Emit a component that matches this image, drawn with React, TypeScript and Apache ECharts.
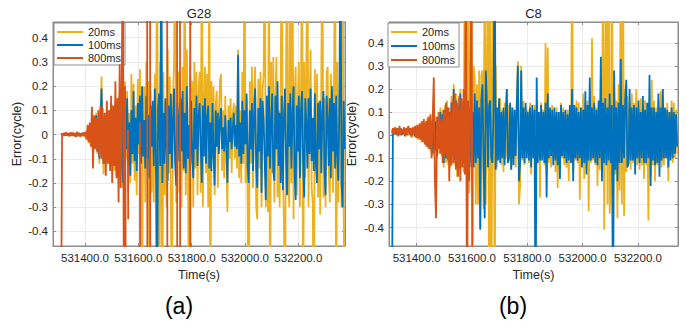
import React, { useEffect, useRef } from 'react';
import * as echarts from 'echarts';

// ---- sampling (epoch grid) ----
const sampleStart = 531310; // s, first epoch of every series
const sampleStep = 4; // s

// ---- G28 (panel a) ----
const g28Ms20 = [
  0, 0.004, -0.003, 0.005, -0.004, 0.003, 0.006, -0.005, 0.004, -0.003,
  0.005, -0.004, 0.007, -0.003, 0.004, -0.006, 0.005, 0.003, -0.004, 0.006,
  -0.005, 0.004, -0.003, 0.005,
  -0.02, 0.025, -0.035, 0.03, -0.025, 0.05, -0.06, 0.07, -0.05, 0.09,
  -0.08, 0.06, -0.12, 0.07, 0.24, -0.06, -0.165, 0.08, -0.09, 0.1,
  -0.12, 0.1, -0.08, 0.13, -0.11, 0.12, -0.15, 0.13, -0.17, 0.15,
  -0.14, 0.18, -0.17, 0.17, -0.22, 0.2,
  0.22, -0.1, 0.18, -0.24, 0.09, -0.2, 0.25, -0.12, 0.21, -0.19,
  0.12, -0.25, 0.23, -0.08, 0.27, -0.2, -0.9, 0.15, 0.2, -0.28,
  0.3, -0.14, 0.22, -0.9, 0.18, -0.24, 0.1, -0.28, 0.25, -0.16,
  0.9, -0.22, -0.9, 0.3, -0.12, -0.9, 0.26, -0.25, 0.14, -0.3,
  0.35, -0.16, 0.24, -0.28, -0.9, 0.15, 0.3, 0.9, -0.28, 0.12,
  0.26, -0.24, 0.12, -0.3, 0.28, -0.15, 0.9, -0.25, 0.35, -0.1,
  -0.9, 0.28, -0.12, 0.22, -0.3, 0.3, -0.14, 0.26, -0.25, 0.18,
  0.26, -0.24, 0.9, -0.3, 0.12, 0.28, -0.16, 0.25, -0.3, 0.9,
  -0.9, 0.22, -0.1, 0.2, -0.25, 0.12, 0.18, -0.22, 0.08, 0.22,
  0.25, -0.15, 0.1, -0.18, 0.16, -0.08, -0.32, 0.12, -0.1, 0.15,
  -0.16, 0.08, 0.13, -0.1, 0.12, -0.14, 0.35, -0.18, 0.1, -0.2,
  0.26, -0.12, 0.9, -0.2, 0.15, -0.28, -0.9, 0.22, -0.12, 0.28,
  -0.22, 0.15, 0.28, -0.3, -0.35, 0.23, -0.14, 0.26, -0.3, 0.18,
  0.25, 0.9, -0.3, 0.12, -0.32, 0.9, -0.9, 0.3, -0.16, 0.32,
  -0.28, 0.14, 0.32, -0.26, 0.1, -0.3, 0.26, 0.9, -0.17, -0.35,
  -0.9, 0.28, 0.9, -0.14, -0.3, 0.9, -0.2, 0.9, -0.35, 0.15,
  0.28, -0.25, 0.12, 0.3, -0.3, 0.15, 0.9, -0.9, 0.3, -0.18,
  0.26, 0.9, -0.3, 0.12, 0.35, -0.22, -0.28, -0.9, 0.27, -0.15,
  0.25, -0.26, 0.14, -0.33, 0.2, 0.9, -0.26, 0.15, -0.3, 0.25,
  0.28, -0.14, -0.28, 0.25, 0.1, -0.24, 0.26, 0.9, -0.9, 0.3,
  -0.28, 0.15, 0.25, -0.3, 0.9, -0.3, -0.9,
];
const g28Ms100 = [
  0, 0.003, -0.002, 0.004, -0.003, 0.002, 0.005, -0.004, 0.003, -0.002,
  0.004, -0.003, 0.006, -0.002, 0.003, -0.005, 0.004, 0.002, -0.003, 0.005,
  -0.004, 0.003, -0.002, 0.004,
  -0.015, 0.02, -0.03, 0.025, -0.02, 0.04, -0.05, 0.06, -0.04, 0.08,
  -0.07, 0.05, -0.1, 0.06, 0.19, -0.05, -0.12, 0.07, -0.08, 0.09,
  -0.1, 0.08, -0.06, 0.12, -0.09, 0.1, -0.13, 0.11, -0.15, 0.13,
  -0.12, 0.16, -0.14, 0.15, -0.2, 0.18,
  0.12, -0.06, 0.15, -0.13, 0.05, -0.17, 0.1, -0.08, 0.18, -0.11,
  0.07, -0.15, 0.13, -0.04, 0.16, -0.12, 0.2, -0.09, 0.06, -0.14,
  0.16, -0.1, 0.08, -0.18, 0.12, -0.05, 0.14, -0.13, 0.19, -0.07,
  -0.9, 0.11, 0.17, -0.13, 0.9, -0.2, 0.09, -0.12, 0.15, -0.06,
  -0.19, 0.12, -0.08, 0.17, -0.14, 0.05, 0.19, -0.12, -0.21, 0.13,
  0.06, -0.11, 0.15, -0.07, 0.18, -0.14, 0.09, -0.16, 0.2, -0.1,
  0.04, -0.15, 0.14, -0.09, -0.18, 0.11, -0.06, 0.16, -0.13, 0.08,
  0.13, -0.05, -0.2, 0.12, -0.09, 0.15, -0.12, 0.07, 0.12, -0.14,
  0.05, -0.15, 0.13, -0.08, -0.21, 0.1, -0.05, 0.09, -0.08, 0.06,
  0.11, -0.06, 0.03, -0.07, 0.08, -0.04, -0.2, 0.06, -0.03, 0.07,
  -0.06, 0.02, 0.09, -0.05, 0.04, -0.06, 0.33, -0.09, 0.05, -0.12,
  0.14, -0.08, 0.1, -0.04, 0.17, -0.13, -0.2, 0.1, -0.06, 0.13,
  -0.15, 0.08, 0.19, -0.13, -0.22, 0.11, -0.07, 0.15, -0.24, 0.14,
  0.06, -0.12, -0.27, 0.16, -0.09, 0.2, -0.14, 0.05, 0.17, -0.15,
  -0.19, 0.16, -0.06, 0.22, -0.13, 0.09, -0.2, 0.16, -0.23, 0.07,
  0.19, -0.1, -0.25, 0.13, -0.05, 0.17, -0.14, 0.08, 0.2, -0.16,
  -0.27, 0.12, -0.07, 0.16, -0.18, 0.1, 0.18, -0.12, -0.26, 0.15,
  0.05, -0.14, 0.15, -0.08, 0.19, -0.11, 0.07, -0.15, 0.17, -0.12,
  -0.2, 0.13, -0.06, 0.14, -0.16, 0.08, 0.18, -0.14, -0.25, 0.16,
  0.06, -0.13, 0.15, -0.18, 0.2, -0.07, 0.13, -0.14, 0.16, -0.09,
  -0.19, 0.12, 0.9, -0.2, -0.3, 0.14, -0.06,
];
const g28Ms800 = [
  -0.9, 0.004, -0.006, 0.008, -0.003, 0.01, -0.005, 0.006, -0.008, 0.01,
  -0.004, 0.009, -0.007, 0.005, -0.01, 0.012, -0.006, 0.008, -0.009, 0.006,
  -0.005, 0.01, -0.008, 0.012,
  -0.02, 0.04, -0.03, 0.05, -0.05, 0.115, -0.14, 0.08, -0.06, 0.07,
  -0.07, 0.1, -0.09, 0.12, -0.1, 0.11, -0.12, 0.09, -0.17, 0.14,
  -0.12, 0.1, -0.15, 0.16, -0.2, 0.12, -0.13, 0.22, -0.18, 0.15,
  -0.28, 0.29, -0.22, 0.24, 0.9, -0.9, 0.2, -0.9,
];
const g28Ms800SpikeTimes = [531561, 531606, 531633, 531644, 531708, 531745, 531756, 531794];
const g28Ms800SpikeHigh = [0.02, 0.05, 0.9, 0.9, 0.9, 0.9, 0.9, 0.9];
const g28Ms800SpikeLow = [-0.35, -0.9, -0.9, -0.9, -0.9, -0.9, -0.9, -0.9];

// ---- C8 (panel b) ----
const c8Ms20 = [
  0.0, 0.01, 0.025, 0.0, 0.03, 0.005, 0.02, 0.0, 0.03, 0.005,
  0.025, 0.0, 0.03, -0.005, 0.035, 0.0, 0.025, -0.005, 0.03, 0.0,
  0.03, -0.01, 0.035, -0.015, 0.04, -0.02, 0.05, -0.03, 0.06, -0.03,
  0.05, -0.05, 0.07, -0.06, 0.08, -0.07, 0.06, -0.09, 0.12, -0.08,
  0.08, -0.1, 0.1, -0.08, 0.12, -0.09, 0.11, -0.14, 0.13, -0.12,
  0.15, -0.13, 0.12, -0.14, 0.17, -0.12, 0.22, -0.13, 0.18, -0.18,
  0.16, -0.15, 0.2, -0.14, 0.15, -0.16, 0.9, 0.3, -0.3, 0.9,
  -0.25, 0.2, 0.9, -0.9, 0.3, 0.25, -0.3, 0.22, -0.3, 0.28,
  -0.4, 0.26, 0.28, -0.32, 0.9, -0.3, 0.25, 0.9, -0.9, 0.9,
  -0.9, 0.25, 0.9, -0.9, 0.3, -0.14, 0.12, -0.1, 0.16, -0.13,
  0.11, -0.16, 0.14, -0.1, 0.2, -0.12, 0.13, -0.09, -0.15, 0.12,
  -0.1, 0.09, -0.14, 0.13, 0.32, -0.3, -0.22, 0.3, -0.11, 0.15,
  -0.13, 0.12, -0.08, 0.11, -0.12, 0.14, -0.17, 0.1, -0.09, 0.13,
  -0.11, 0.13, -0.09, 0.1, -0.27, 0.14, -0.1, 0.11, -0.13, 0.4,
  -0.17, 0.38, -0.12, 0.11, -0.14, 0.13, -0.1, 0.09, -0.16, 0.12,
  -0.23, 0.1, -0.09, 0.14, -0.1, 0.12, -0.13, 0.1, -0.14, 0.11,
  -0.2, 0.13, -0.12, 0.9, -0.16, 0.13, -0.11, 0.15, -0.12, 0.14,
  -0.28, 0.12, -0.13, 0.18, -0.19, 0.14, -0.12, 0.15, -0.33, 0.13,
  -0.12, 0.42, -0.11, 0.17, -0.13, 0.12, -0.22, 0.14, -0.15, 0.26,
  -0.18, 0.9, -0.41, 0.2, 0.9, -0.3, 0.9, -0.34, -0.2, 0.9,
  -0.25, 0.2, -0.17, 0.15, -0.36, 0.22, -0.24, 0.9, -0.3, 0.9,
  -0.35, 0.2, -0.16, 0.17, -0.13, 0.14, -0.15, 0.18, -0.12, 0.14,
  -0.12, 0.2, -0.13, 0.12, -0.15, 0.16, -0.13, 0.12, -0.19, 0.15,
  -0.13, 0.14, -0.37, 0.12, -0.18, 0.24, -0.13, 0.15, -0.2, 0.12,
  -0.13, 0.15, -0.12, 0.19, -0.14, 0.2, -0.13, 0.11, -0.1, 0.14,
  -0.2, 0.1, -0.08, 0.15, -0.12, 0.14, -0.1, 0.11, -0.08,
];
const c8Ms100 = [
  -0.9, 0.0, 0.02, 0.005, 0.025, 0.0, 0.02, 0.01, 0.03, 0.0,
  0.02, 0.005, 0.025, 0.0, 0.03, 0.01, 0.02, 0.0, 0.025, 0.01,
  0.02, -0.005, 0.03, -0.01, 0.035, -0.01, 0.04, -0.02, 0.05, -0.02,
  0.04, -0.04, 0.06, -0.05, 0.07, -0.06, 0.05, -0.08, 0.1, -0.07,
  0.06, -0.09, 0.08, -0.06, 0.1, -0.07, 0.09, -0.12, 0.11, -0.1,
  0.12, -0.11, 0.1, -0.12, 0.14, -0.09, 0.2, -0.11, 0.15, -0.14,
  0.13, -0.12, 0.18, -0.1, 0.12, -0.12, 0.16, 0.2, -0.15, 0.14,
  -0.12, 0.12, -0.14, 0.1, -0.14, 0.18, -0.12, 0.15, -0.1, 0.12,
  -0.41, 0.15, 0.22, -0.12, -0.36, 0.28, 0.14, -0.14, 0.13, 0.15,
  -0.1, -0.12, 0.11, 0.9, -0.15, 0.12, -0.11, 0.16, -0.12, 0.1,
  -0.1, 0.12, -0.13, 0.09, 0.2, -0.12, -0.1, 0.14, -0.15, 0.12,
  -0.13, 0.11, -0.09, 0.14, 0.3, -0.2, -0.12, 0.28, -0.1, 0.12,
  -0.12, 0.14, -0.1, 0.1, -0.11, 0.12, -0.14, 0.13, -0.1, 0.11,
  -0.9, 0.25, -0.12, 0.1, -0.11, 0.13, -0.11, 0.1, -0.12, 0.14,
  -0.27, 0.18, -0.1, 0.12, -0.09, 0.11, -0.13, 0.12, -0.11, 0.1,
  -0.13, 0.1, -0.19, 0.13, -0.09, 0.1, -0.1, 0.11, -0.12, 0.09,
  -0.11, 0.13, -0.12, 0.2, -0.2, 0.13, -0.1, 0.12, -0.11, 0.1,
  -0.1, 0.12, -0.14, 0.11, -0.12, 0.19, -0.17, 0.13, -0.11, 0.25,
  -0.11, 0.12, -0.1, 0.14, -0.12, 0.11, -0.13, 0.15, -0.1, 0.34,
  -0.2, 0.14, -0.12, 0.16, -0.13, 0.12, -0.11, 0.18, -0.12, 0.13,
  -0.9, 0.28, -0.15, 0.12, -0.2, 0.14, -0.12, 0.33, -0.12, 0.13,
  -0.1, 0.15, 0.24, -0.14, -0.12, 0.2, -0.11, 0.12, -0.11, 0.13,
  -0.17, 0.12, -0.1, 0.15, -0.12, 0.1, -0.1, 0.17, -0.12, 0.11,
  -0.12, 0.14, -0.1, 0.26, -0.22, 0.12, -0.11, 0.12, -0.13, 0.1,
  -0.12, 0.18, -0.18, 0.12, -0.11, 0.2, -0.1, 0.12, -0.1, 0.11,
  -0.14, 0.1, -0.11, 0.12, -0.1, 0.1, -0.08, 0.09, -0.05,
];
const c8Ms800 = [
  0.01, 0.03, 0.005, 0.035, 0.01, 0.03, -0.005, 0.04, 0.0, 0.025,
  0.01, 0.035, -0.005, 0.03, 0.0, 0.04, 0.01, 0.03, -0.01, 0.035,
  0.0, 0.04, -0.01, 0.045, -0.015, 0.05, -0.02, 0.06, -0.03, 0.07,
  -0.04, 0.06, -0.05, 0.08, -0.06, 0.09, -0.1, 0.07, 0.25, -0.2,
  -0.36, 0.08, -0.06, 0.1, -0.08, 0.07, -0.12, 0.11, -0.09, 0.14,
  -0.1, 0.12, -0.2, 0.1, -0.13, 0.15, -0.12, 0.18, -0.15, 0.14,
  -0.18, 0.17, -0.2, 0.16, -0.14, 0.2, -0.17, 0.9, -0.9, 0.15,
  -0.2, 0.12, 0.9, -0.9,
];

const seriesNames = ['20ms', '100ms', '800ms'];
const seriesColors = ['#EDB120', '#0072BD', '#D95319'];
const panelTitles = ['G28', 'C8'];
const panelTags = ['(a)', '(b)'];
const xLimits = [[531280, 532375], [531300, 532345]];
const yLimits = [[-0.46, 0.465], [-0.48, 0.49]];

const FONT = '"Liberation Sans", Arial, Helvetica, sans-serif';
const TEXT = '#262626';
const AXIS = '#8c8c8c';
const GRIDC = '#ebebeb';

const onGrid = (vals: number[]) => vals.map((v, i) => [sampleStart + i * sampleStep, v]);

const withSpikes = (base: any[], times: number[], hi: number[], lo: number[]) => {
  const out: any[] = base.slice();
  times.forEach((t, k) => {
    out.push([t - 1, '-']);
    out.push([t, hi[k]]);
    out.push([t + 1, lo[k]]);
  });
  return out;
};

const grids = [
  { left: 53, top: 22, width: 292, height: 224 },
  { left: 389, top: 22, width: 289, height: 224 },
];

export default function App() {
  const ref = useRef<HTMLDivElement>(null);
  useEffect(() => {
    if (!ref.current) return;
    const chart = echarts.init(ref.current, undefined, { renderer: 'svg' });

    const panelData = [
      [onGrid(g28Ms20), onGrid(g28Ms100), withSpikes(onGrid(g28Ms800), g28Ms800SpikeTimes, g28Ms800SpikeHigh, g28Ms800SpikeLow)],
      [onGrid(c8Ms20), onGrid(c8Ms100), onGrid(c8Ms800)],
    ];

    const xAxes: any[] = [];
    const yAxes: any[] = [];
    grids.forEach((g, p) => {
      xAxes.push({
        gridIndex: p, type: 'value', min: xLimits[p][0], max: xLimits[p][1], splitNumber: 5,
        axisLine: { show: true, onZero: false, lineStyle: { color: AXIS } },
        axisTick: { show: true, inside: true, length: 3, lineStyle: { color: AXIS } },
        axisLabel: {
          showMinLabel: false, showMaxLabel: false, margin: 6, color: TEXT, fontSize: 11.5, fontFamily: FONT,
          formatter: (v: number) => v.toFixed(1),
        },
        splitLine: { show: true, lineStyle: { color: GRIDC } },
      });
      xAxes.push({
        gridIndex: p, type: 'value', position: 'top', min: xLimits[p][0], max: xLimits[p][1], splitNumber: 5,
        axisLine: { show: true, onZero: false, lineStyle: { color: AXIS } },
        axisTick: { show: true, inside: true, length: 3, lineStyle: { color: AXIS } },
        axisLabel: { show: false }, splitLine: { show: false },
      });
      yAxes.push({
        gridIndex: p, type: 'value', min: yLimits[p][0], max: yLimits[p][1], splitNumber: 9,
        axisLine: { show: true, onZero: false, lineStyle: { color: AXIS } },
        axisTick: { show: true, inside: true, length: 3, lineStyle: { color: AXIS } },
        axisLabel: {
          showMinLabel: false, showMaxLabel: false, margin: 5, color: TEXT, fontSize: 11.5, fontFamily: FONT,
          formatter: (v: number) => { const r = Math.round(v * 10) / 10; return r === 0 ? '0' : String(r); },
        },
        splitLine: { show: true, lineStyle: { color: GRIDC } },
      });
      yAxes.push({
        gridIndex: p, type: 'value', position: 'right', min: yLimits[p][0], max: yLimits[p][1], splitNumber: 9,
        axisLine: { show: true, onZero: false, lineStyle: { color: AXIS } },
        axisTick: { show: true, inside: true, length: 3, lineStyle: { color: AXIS } },
        axisLabel: { show: false }, splitLine: { show: false },
      });
    });

    const series: any[] = [];
    panelData.forEach((sets, p) => {
      sets.forEach((data, k) => {
        series.push({
          type: 'line', name: seriesNames[k], xAxisIndex: p * 2, yAxisIndex: p * 2,
          data, showSymbol: false, symbol: 'none', silent: true, clip: true,
          color: seriesColors[k],
          lineStyle: { width: 1.8, color: seriesColors[k] },
          z: 2 + k,
        });
      });
    });

    const legendBase = {
      data: seriesNames, orient: 'vertical', top: 23, icon: 'rect',
      backgroundColor: '#fff', borderColor: AXIS, borderWidth: 1,
      itemWidth: 26, itemHeight: 2, itemTextGap: 4,
      textStyle: { fontSize: 11, lineHeight: 12, color: TEXT, fontFamily: FONT },
      selectedMode: false,
    };

    const texts: any[] = [];
    grids.forEach((g, p) => {
      const cx = g.left + g.width / 2;
      texts.push({ type: 'text', x: cx, y: 13, style: { text: panelTitles[p], font: `13px ${FONT}`, fill: TEXT, textAlign: 'center', textVerticalAlign: 'middle' } });
      texts.push({ type: 'text', x: cx, y: 275, style: { text: 'Time(s)', font: `12.5px ${FONT}`, fill: TEXT, textAlign: 'center', textVerticalAlign: 'middle' } });
      texts.push({ type: 'text', x: p === 0 ? 179 : 513, y: 306, style: { text: panelTags[p], font: `23px ${FONT}`, fill: '#000', textAlign: 'center', textVerticalAlign: 'middle' } });
      texts.push({ type: 'text', x: p === 0 ? 17 : 352, y: 134, rotation: Math.PI / 2, style: { text: 'Error(cycle)', font: `12.5px ${FONT}`, fill: TEXT, textAlign: 'center', textVerticalAlign: 'middle' } });
    });

    chart.setOption({
      animation: false,
      backgroundColor: '#fff',
      grid: grids.map((g) => ({ ...g, show: true, borderColor: AXIS, borderWidth: 1, backgroundColor: '#fff' })),
      xAxis: xAxes,
      yAxis: yAxes,
      legend: [
        { ...legendBase, left: 54, padding: [3, 4, 1, 3], itemGap: 1 },
        { ...legendBase, left: 388, padding: [3, 4, 1, 3], itemGap: 2 },
      ],
      series,
      graphic: texts,
    });
    return () => chart.dispose();
  }, []);
  return <div ref={ref} style={{ position: 'fixed', left: 0, top: 0, width: 686, height: 330 }} />;
}
